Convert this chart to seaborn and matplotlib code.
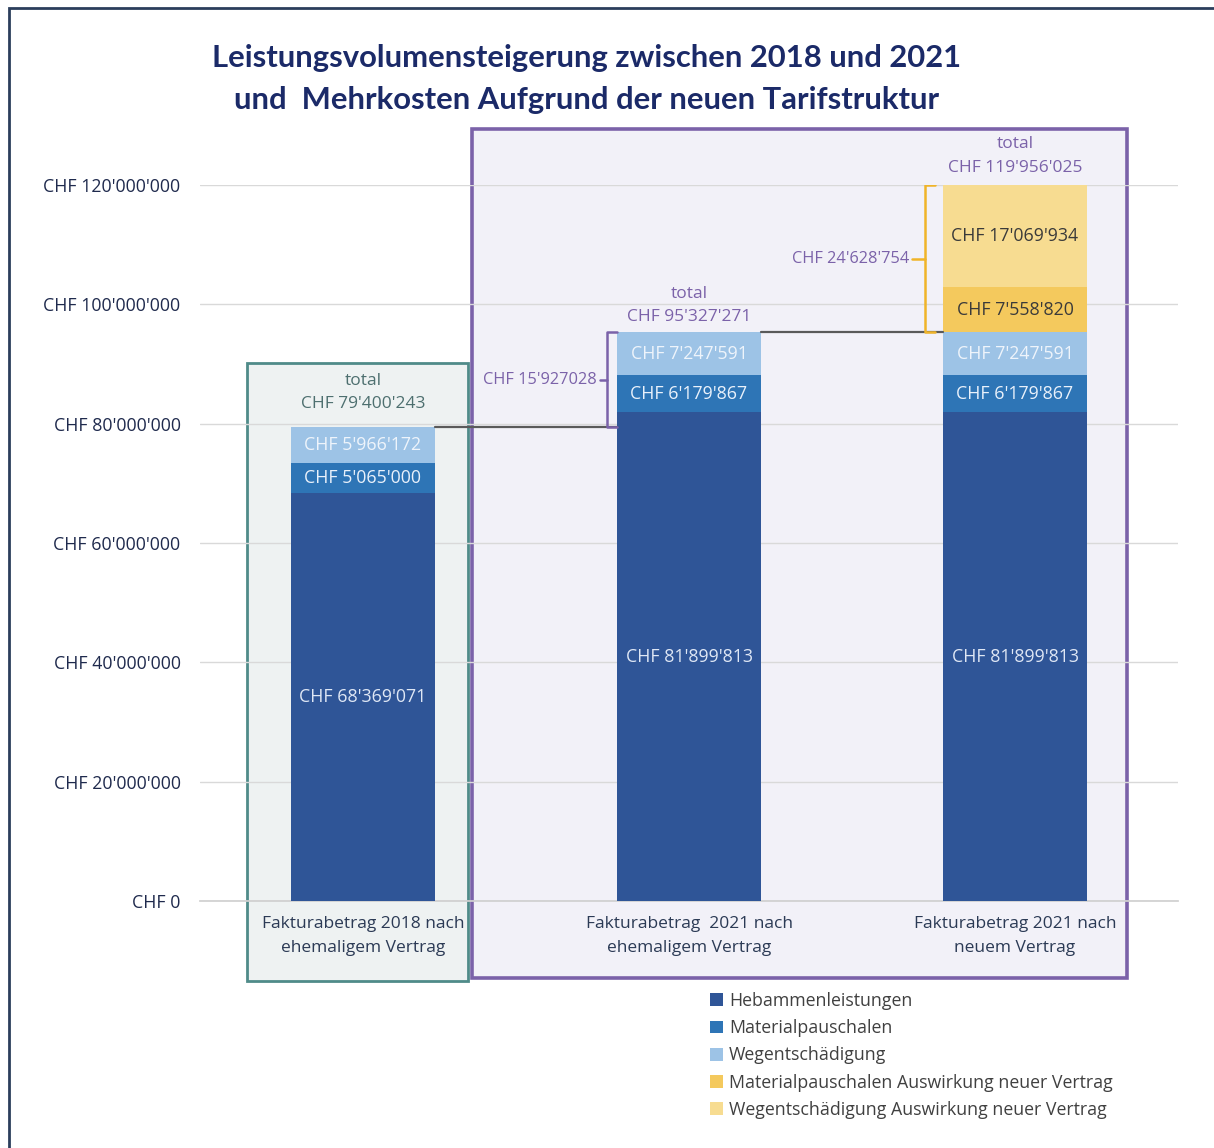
import matplotlib
matplotlib.use("Agg")
import matplotlib.pyplot as plt
from matplotlib.patches import Rectangle
from matplotlib.ticker import FuncFormatter
import numpy as np
import pandas as pd
import seaborn as sns

# ---------------- data ----------------
categories = ["Fakturabetrag 2018 nach\nehemaligem Vertrag",
              "Fakturabetrag  2021 nach\nehemaligem Vertrag",
              "Fakturabetrag 2021 nach\nneuem Vertrag"]
series_names = ["Hebammenleistungen", "Materialpauschalen", "Wegentschädigung",
                "Materialpauschalen Auswirkung neuer Vertrag",
                "Wegentschädigung Auswirkung neuer Vertrag"]
hebammen = [68369071, 81899813, 81899813]
material = [5065000, 6179867, 6179867]
wegent = [5966172, 7247591, 7247591]
material_neu = [0, 0, 7558820]
wegent_neu = [0, 0, 17069934]
totals = [79400243, 95327271, 119956025]
diff_old = 15927028
diff_new = 24628754
yticks = [0, 20000000, 40000000, 60000000, 80000000, 100000000, 120000000]

colors = ["#2f5597", "#2e75b6", "#9dc3e6", "#f4c95d", "#f7dc91"]
label_colors = ["#dfe7f5", "#e9f1fb", "#eef4fb", "#3a3a3a", "#3a3a3a"]

def chf(v):
    return "CHF " + f"{int(v):,}".replace(",", "'")

# ---------------- figure ----------------
sns.set_theme(style="white")
plt.rcParams["font.family"] = ["Open Sans", "DejaVu Sans"]

W, H = 1214, 1148
fig = plt.figure(figsize=(W / 100, H / 100), dpi=100)
fig.patch.set_facecolor("white")

def fx(px):
    return px / W

def fy(py):
    return 1 - py / H

ax = fig.add_axes([fx(200), fy(901), fx(1178) - fx(200), fy(185) - fy(901)])
ax.set_facecolor("none")
ax.set_zorder(1)

# background boxes (figure coordinates)
fig.patches.append(Rectangle((fx(9), fy(1160)), fx(1230) - fx(9), fy(8) - fy(1160),
                             transform=fig.transFigure, facecolor="none",
                             edgecolor="#2b3e5c", lw=2, zorder=-2))
fig.patches.append(Rectangle((fx(247), fy(981)), fx(468) - fx(247), fy(363) - fy(981),
                             transform=fig.transFigure, facecolor="#eef2f2",
                             edgecolor="#4f8b89", lw=2, zorder=-1))
fig.patches.append(Rectangle((fx(472), fy(978)), fx(1127) - fx(472), fy(129) - fy(978),
                             transform=fig.transFigure, facecolor="#f2f1f8",
                             edgecolor="#7b62a9", lw=2.6, zorder=-1))

# stacked bars via cumulative overlap
layers = [hebammen, material, wegent, material_neu, wegent_neu]
cum = np.cumsum(np.array(layers, dtype=float), axis=0)
bw = 0.44
for i in range(len(layers) - 1, -1, -1):
    df = pd.DataFrame({"cat": categories, "val": cum[i]})
    sns.barplot(data=df, x="cat", y="val", color=colors[i], width=bw,
                saturation=1, ax=ax, label=series_names[i], zorder=3,
                linewidth=0, order=categories)

ax.set_xlim(-0.5, 2.5)
ax.set_ylim(0, 120000000)
ax.set_yticks(yticks)
ax.yaxis.set_major_formatter(FuncFormatter(lambda v, p: chf(v)))
ax.grid(axis="y", color="#d9d9d9", lw=1, zorder=0)
ax.set_axisbelow(True)
for s in ["top", "right", "left"]:
    ax.spines[s].set_visible(False)
ax.spines["bottom"].set_color("#d0d0d0")
ax.set_xlabel("")
ax.set_ylabel("")
ax.tick_params(axis="y", length=0, pad=14, labelsize=12.8, labelcolor="#1f2a4d")
ax.tick_params(axis="x", length=0, pad=11, labelsize=12.5, labelcolor="#2b3a55")
ax.set_xticks([0.5, 1.5], minor=True)
ax.tick_params(axis="x", which="minor", length=5, direction="in", color="#cfcfcf")
for t in ax.get_xticklabels():
    t.set_linespacing(1.65)

# segment labels
for j in range(3):
    base = 0
    for i, layer in enumerate(layers):
        v = layer[j]
        if v > 0:
            ax.text(j, base + v / 2, chf(v), ha="center", va="center",
                    fontsize=12.8, color=label_colors[i], zorder=5)
        base += v

# totals
total_colors = ["#4d6f6f", "#7b62a9", "#7b62a9"]
total_offsets = [11, 5, 7]
for j, t in enumerate(totals):
    ax.annotate("total\n" + chf(t), (j, t), xytext=(0, total_offsets[j]),
                textcoords="offset points", ha="center", va="bottom",
                fontsize=12.5, color=total_colors[j], linespacing=1.6,
                annotation_clip=False)

# connector lines
ax.plot([bw / 2, 1 - bw / 2], [totals[0], totals[0]], color="#5a5a5a", lw=1.6, zorder=4)
ax.plot([1 + bw / 2, 2 - bw / 2], [totals[1], totals[1]], color="#5a5a5a", lw=1.6, zorder=4)

# brackets
def bracket(xv, y0, y1, color, label, label_color, tick=0.025, hook=0.03):
    ax.plot([xv + hook, xv, xv, xv + hook], [y0, y0, y1, y1], color=color, lw=1.8,
            zorder=4, solid_capstyle="round", solid_joinstyle="round")
    ym = (y0 + y1) / 2
    ax.plot([xv - tick, xv], [ym, ym], color=color, lw=1.8, zorder=4)
    ax.text(xv - tick - 0.01, ym, label, ha="right", va="center", fontsize=11.8,
            color=label_color, zorder=5)

bracket(0.748, totals[0], totals[1], "#7b62a9", "CHF 15'927028", "#7b62a9", tick=0.022)
bracket(1.725, totals[1], totals[2], "#f0b429", chf(diff_new), "#7b62a9", tick=0.04)

# title
fig.text(fx(587), fy(58), "Leistungsvolumensteigerung zwischen 2018 und 2021",
         ha="center", va="center", fontsize=22.3, fontweight="bold", color="#1b2a68",
         family=["Lato", "DejaVu Sans"])
fig.text(fx(587), fy(100), "und  Mehrkosten Aufgrund der neuen Tarifstruktur",
         ha="center", va="center", fontsize=22.3, fontweight="bold", color="#1b2a68",
         family=["Lato", "DejaVu Sans"])

# legend
handles, labels = ax.get_legend_handles_labels()
order = [labels.index(n) for n in series_names]
leg = fig.legend([handles[k] for k in order], [labels[k] for k in order],
                 loc="upper left", bbox_to_anchor=(fx(710), fy(992)), frameon=False,
                 fontsize=12.8, handlelength=0.72, handleheight=0.72, handletextpad=0.35,
                 labelspacing=0.52, borderaxespad=0, borderpad=0)
for t in leg.get_texts():
    t.set_color("#404040")
if ax.get_legend() is not None:
    ax.get_legend().remove()

fig.savefig("out.png", dpi=100, facecolor="white")
